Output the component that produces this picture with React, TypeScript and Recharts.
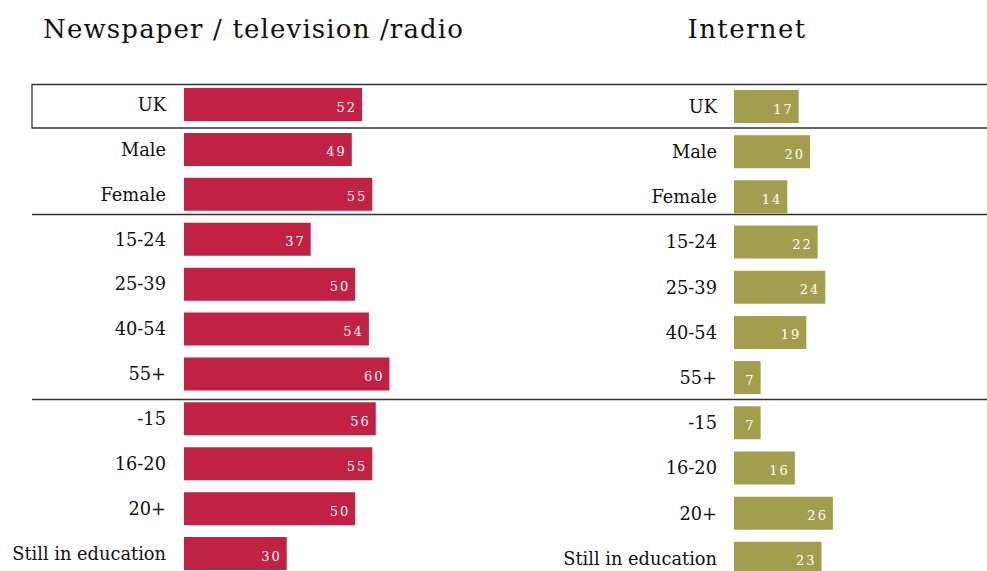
import React from "react";
import { BarChart, Bar, XAxis, YAxis, LabelList } from "recharts";

const categories = ["UK", "Male", "Female", "15-24", "25-39", "40-54", "55+", "-15", "16-20", "20+", "Still in education"];
const traditionalMedia = [52, 49, 55, 37, 50, 54, 60, 56, 55, 50, 30];
const internet = [17, 20, 14, 22, 24, 19, 7, 7, 16, 26, 23];
const panelTitles = ["Newspaper / television /radio", "Internet"];

const leftData = categories.map((name, i) => ({ name, value: traditionalMedia[i] }));
const rightData = categories.map((name, i) => ({ name, value: internet[i] }));

const FONT = "'DejaVu Serif', serif";
const RED = "#C12143";
const OLIVE = "#A39E4E";

const ValueLabel = (props: any) => {
  const { x, y, width, height, value } = props;
  return (
    <text
      x={x + width - 5}
      y={y + height / 2 + 7}
      textAnchor="end"
      fill="#ffffff"
      fontFamily={FONT}
      fontSize={13}
      letterSpacing={2}
    >
      {value}
    </text>
  );
};

export default function App() {
  return (
    <div style={{ position: "fixed", left: 0, top: 0, width: 987, height: 571, overflow: "hidden", background: "#fff" }}>
      <div style={{ position: "absolute", left: 0, top: 0 }}>
        <BarChart width={499} height={600} data={leftData} layout="vertical" margin={{ top: 82, right: 0, bottom: 24, left: 0 }}>
          <XAxis type="number" domain={[0, 92]} hide />
          <YAxis
            type="category"
            dataKey="name"
            width={184}
            axisLine={false}
            tickLine={false}
            tickSize={0}
            tickMargin={18}
            interval={0}
            tick={{ fontFamily: FONT, fontSize: 17.8, fill: "#111" }}
          />
          <Bar dataKey="value" fill={RED} barSize={33} isAnimationActive={false}>
            <LabelList dataKey="value" content={<ValueLabel />} />
          </Bar>
        </BarChart>
      </div>
      <div style={{ position: "absolute", left: 500, top: 0 }}>
        <BarChart width={487} height={600} data={rightData} layout="vertical" margin={{ top: 84, right: 0, bottom: 19, left: 0 }}>
          <XAxis type="number" domain={[0, 66.5]} hide />
          <YAxis
            type="category"
            dataKey="name"
            width={234}
            axisLine={false}
            tickLine={false}
            tickSize={0}
            tickMargin={17}
            interval={0}
            tick={{ fontFamily: FONT, fontSize: 17.8, fill: "#111" }}
          />
          <Bar dataKey="value" fill={OLIVE} barSize={33} isAnimationActive={false}>
            <LabelList dataKey="value" content={<ValueLabel />} />
          </Bar>
        </BarChart>
      </div>
      <svg width={987} height={571} style={{ position: "absolute", left: 0, top: 0, pointerEvents: "none" }}>
        <text x={43} y={38} fontFamily={FONT} fontSize={26} letterSpacing={1.15} fill="#111">{panelTitles[0]}</text>
        <text x={747} y={38} textAnchor="middle" fontFamily={FONT} fontSize={26} letterSpacing={1.4} fill="#111">{panelTitles[1]}</text>
        <line x1={32} x2={987} y1={84.5} y2={84.5} stroke="#333" strokeWidth={1.3} />
        <line x1={32} x2={987} y1={128} y2={128} stroke="#333" strokeWidth={1.3} />
        <line x1={32} x2={32} y1={84} y2={128.5} stroke="#333" strokeWidth={1.3} />
        <line x1={32} x2={987} y1={214.5} y2={214.5} stroke="#333" strokeWidth={1.3} />
        <line x1={32} x2={987} y1={399.5} y2={399.5} stroke="#333" strokeWidth={1.3} />
      </svg>
    </div>
  );
}
